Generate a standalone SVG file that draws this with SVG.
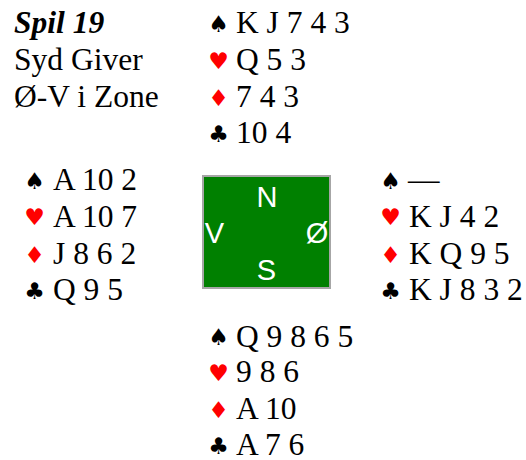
<svg xmlns="http://www.w3.org/2000/svg" width="526" height="460" viewBox="0 0 526 460">
<defs>
<style>
.c{font-family:"Liberation Serif","Times New Roman",serif;font-size:31.5px;fill:#000}
.b{font-weight:bold;font-style:italic}
.u{font-family:"DejaVu Sans",sans-serif;font-size:23px;text-anchor:middle;fill:#000}
.r{fill:#ff0000}
.d{font-family:"Liberation Sans",Arial,sans-serif;font-size:29px;fill:#ffffff;text-anchor:middle}
</style>
</defs>
<rect width="526" height="460" fill="#ffffff"/>
<g id="info">
<text class="c b" x="14" y="33" font-family="Liberation Serif, serif">Spil 19</text>
<text class="c" x="14" y="70" font-family="Liberation Serif, serif">Syd Giver</text>
<text class="c" x="14" y="107" font-family="Liberation Serif, serif">Ø-V i Zone</text>
</g>
<g id="north">
<text class="u" x="218.5" y="32" font-family="DejaVu Sans, sans-serif">♠</text>
<text class="c" x="236" y="33" font-family="Liberation Serif, serif">K J 7 4 3</text>
<text class="u r" x="218.5" y="68.5" font-family="DejaVu Sans, sans-serif">♥</text>
<text class="c" x="236" y="70" font-family="Liberation Serif, serif">Q 5 3</text>
<text class="u r" x="218.5" y="106" font-family="DejaVu Sans, sans-serif">♦</text>
<text class="c" x="236" y="106.5" font-family="Liberation Serif, serif">7 4 3</text>
<text class="u" x="218.5" y="142" font-family="DejaVu Sans, sans-serif">♣</text>
<text class="c" x="236" y="143" font-family="Liberation Serif, serif">10 4</text>
</g>
<g id="west">
<text class="u" x="34.5" y="189" font-family="DejaVu Sans, sans-serif">♠</text>
<text class="c" x="53" y="190" font-family="Liberation Serif, serif">A 10 2</text>
<text class="u r" x="34.5" y="225" font-family="DejaVu Sans, sans-serif">♥</text>
<text class="c" x="53" y="226.5" font-family="Liberation Serif, serif">A 10 7</text>
<text class="u r" x="34.5" y="263" font-family="DejaVu Sans, sans-serif">♦</text>
<text class="c" x="53" y="263.5" font-family="Liberation Serif, serif">J 8 6 2</text>
<text class="u" x="34.5" y="299" font-family="DejaVu Sans, sans-serif">♣</text>
<text class="c" x="53" y="300" font-family="Liberation Serif, serif">Q 9 5</text>
</g>
<g id="east">
<text class="u" x="390.5" y="189" font-family="DejaVu Sans, sans-serif">♠</text>
<text class="c" x="408" y="190" font-family="Liberation Serif, serif">—</text>
<text class="u r" x="390.5" y="225" font-family="DejaVu Sans, sans-serif">♥</text>
<text class="c" x="409" y="226.5" font-family="Liberation Serif, serif">K J 4 2</text>
<text class="u r" x="390.5" y="263" font-family="DejaVu Sans, sans-serif">♦</text>
<text class="c" x="409" y="263.5" font-family="Liberation Serif, serif">K Q 9 5</text>
<text class="u" x="390.5" y="299" font-family="DejaVu Sans, sans-serif">♣</text>
<text class="c" x="409" y="300" font-family="Liberation Serif, serif">K J 8 3 2</text>
</g>
<g id="south">
<text class="u" x="218.5" y="345" font-family="DejaVu Sans, sans-serif">♠</text>
<text class="c" x="236" y="346.5" font-family="Liberation Serif, serif">Q 9 8 6 5</text>
<text class="u r" x="218.5" y="380.5" font-family="DejaVu Sans, sans-serif">♥</text>
<text class="c" x="236" y="382" font-family="Liberation Serif, serif">9 8 6</text>
<text class="u r" x="218.5" y="418" font-family="DejaVu Sans, sans-serif">♦</text>
<text class="c" x="236" y="418.5" font-family="Liberation Serif, serif">A 10</text>
<text class="u" x="218.5" y="453.5" font-family="DejaVu Sans, sans-serif">♣</text>
<text class="c" x="236" y="454.5" font-family="Liberation Serif, serif">A 7 6</text>
</g>
<g id="table">
<rect x="203" y="176" width="127" height="112" fill="#008000" stroke="#a6a6a6" stroke-width="2"/>
<text class="d" x="267" y="206.5" font-family="Liberation Sans, sans-serif">N</text>
<text class="d" x="214.5" y="243" font-family="Liberation Sans, sans-serif">V</text>
<text class="d" x="317" y="243" font-family="Liberation Sans, sans-serif">Ø</text>
<text class="d" x="266.5" y="280" font-family="Liberation Sans, sans-serif">S</text>
</g>
</svg>
